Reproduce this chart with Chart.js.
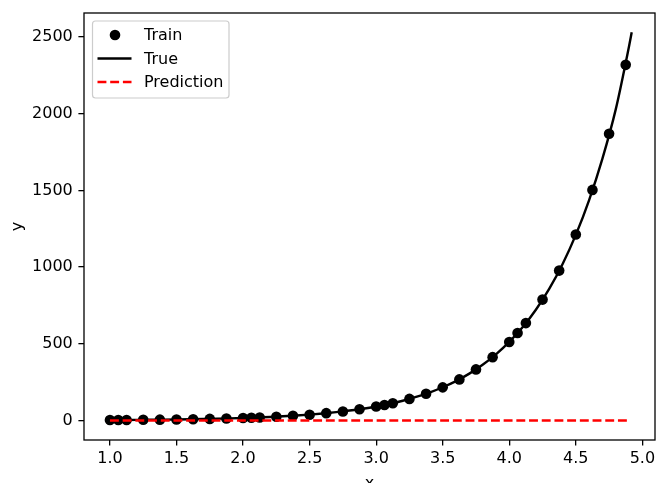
<!DOCTYPE html>
<html>
<head>
<meta charset="utf-8">
<script src="https://cdn.jsdelivr.net/npm/chart.js@4.4.1/dist/chart.umd.min.js"></script>
<style>
  html, body { margin: 0; padding: 0; background: #fff; }
  canvas { display: block; }
</style>
</head>
<body>
<canvas id="grafico" width="657" height="483"></canvas>
<script>
// dados
const trainX = [1.0, 1.0625, 1.125, 1.25, 1.375, 1.5, 1.625, 1.75, 1.875, 2.0, 2.0625, 2.125, 2.25, 2.375, 2.5, 2.625, 2.75, 2.875,
  3.0, 3.0625, 3.125, 3.25, 3.375, 3.5, 3.625, 3.75, 3.875, 4.0, 4.0625, 4.125, 4.25, 4.375, 4.5, 4.625, 4.75, 4.875];
const trainY = [2.9, 3.2, 3.6, 4.5, 5.5, 6.9, 8.5, 10.5, 13, 16, 18, 20, 25, 31, 38, 48, 59, 73,
  91, 101, 113, 141, 174, 216, 268, 333, 413, 512, 570, 635, 788, 977, 1212, 1503, 1869, 2318];

const trueX = [1.0, 1.1, 1.2, 1.3, 1.4, 1.5, 1.6, 1.7, 1.8, 1.9, 2.0, 2.1, 2.2, 2.3, 2.4, 2.5, 2.6, 2.7, 2.8, 2.9,
  3.0, 3.1, 3.2, 3.3, 3.4, 3.5, 3.6, 3.7, 3.8, 3.9, 4.0, 4.1, 4.2, 4.3, 4.4, 4.5, 4.6, 4.7, 4.8, 4.9, 4.92];
const trueY = [2.9, 3.5, 4.1, 4.9, 5.8, 6.9, 8.2, 9.8, 11.6, 13.8, 16.4, 19.5, 23.1, 27.5, 32.6, 38.7, 46, 54.7, 64.9, 77,
  91.6, 108.8, 129, 153.5, 182, 216.7, 257, 305.6, 363, 431, 512, 608, 722, 858, 1019, 1210, 1437, 1707, 2028, 2440, 2530];

const predX = [1.0, 4.9];
const predY = [0, 0];

const xTicks = [1.0, 1.5, 2.0, 2.5, 3.0, 3.5, 4.0, 4.5, 5.0];
const yTicks = [0, 500, 1000, 1500, 2000, 2500];

const labels = ["Train", "True", "Prediction"];

const fonte = "'DejaVu Sans', sans-serif";
const toPts = (xs, ys) => xs.map((x, i) => ({ x: x, y: ys[i] }));

// moldura (spines) + legenda estilo matplotlib
const molduraLegenda = {
  id: "molduraLegenda",
  afterDraw(chart) {
    const { ctx, chartArea: a } = chart;
    ctx.save();
    ctx.strokeStyle = "#000";
    ctx.lineWidth = 1.3;
    ctx.strokeRect(a.left, a.top, a.right - a.left, a.bottom - a.top);

    // caixa da legenda
    const bx = 92.5, by = 21, bw = 136.5, bh = 77, r = 3;
    ctx.beginPath();
    ctx.roundRect(bx, by, bw, bh, r);
    ctx.fillStyle = "rgba(255,255,255,0.8)";
    ctx.fill();
    ctx.strokeStyle = "#cccccc";
    ctx.lineWidth = 1.2;
    ctx.stroke();

    const rows = [35, 58.5, 82];
    ctx.font = "16px " + fonte;
    ctx.textBaseline = "middle";
    ctx.textAlign = "left";
    // Train: marcador
    ctx.fillStyle = "#000";
    ctx.beginPath();
    ctx.arc(115, rows[0], 5.3, 0, Math.PI * 2);
    ctx.fill();
    // True: linha
    ctx.strokeStyle = "#000";
    ctx.lineWidth = 2.4;
    ctx.beginPath();
    ctx.moveTo(97.5, rows[1]);
    ctx.lineTo(131.5, rows[1]);
    ctx.stroke();
    // Prediction: tracejado
    ctx.strokeStyle = "#ff0000";
    ctx.setLineDash([8.9, 3.8]);
    ctx.beginPath();
    ctx.moveTo(97.5, rows[2]);
    ctx.lineTo(131.5, rows[2]);
    ctx.stroke();
    ctx.setLineDash([]);

    ctx.fillStyle = "#000";
    labels.forEach((t, i) => ctx.fillText(t, 144, rows[i] + 1));
    ctx.restore();
  }
};

new Chart(document.getElementById("grafico").getContext("2d"), {
  type: "scatter",
  data: {
    datasets: [
      {
        label: labels[0],
        data: toPts(trainX, trainY),
        showLine: false,
        pointRadius: 5.3,
        pointHoverRadius: 5.3,
        pointBackgroundColor: "#000",
        pointBorderWidth: 0,
        order: 2
      },
      {
        label: labels[1],
        data: toPts(trueX, trueY),
        showLine: true,
        pointRadius: 0,
        borderColor: "#000",
        borderWidth: 2.4,
        cubicInterpolationMode: "monotone",
        order: 1
      },
      {
        label: labels[2],
        data: toPts(predX, predY),
        showLine: true,
        pointRadius: 0,
        borderColor: "#ff0000",
        borderWidth: 2.4,
        borderDash: [8.9, 3.8],
        order: 0
      }
    ]
  },
  options: {
    responsive: false,
    animation: false,
    devicePixelRatio: 1,
    layout: { autoPadding: false, padding: { top: 13, right: 2, left: 0, bottom: 0 } },
    plugins: {
      legend: { display: false },
      tooltip: { enabled: false }
    },
    scales: {
      x: {
        type: "linear",
        min: 0.805,
        max: 5.095,
        afterBuildTicks: ax => { ax.ticks = xTicks.map(v => ({ value: v })); },
        afterFit: ax => { ax.height = 43; ax.paddingLeft = 0; ax.paddingRight = 0; },
        border: { display: false },
        grid: { drawOnChartArea: false, drawTicks: true, tickLength: 5.6, color: "#000", lineWidth: 1.3 },
        ticks: {
          color: "#000",
          padding: 4,
          font: { family: fonte, size: 16 },
          maxRotation: 0,
          callback: v => Number(v).toFixed(1)
        },
        title: {
          display: true,
          text: "x",
          color: "#000",
          font: { family: fonte, size: 16 },
          padding: { top: 0, bottom: -10 }
        }
      },
      y: {
        type: "linear",
        min: -127,
        max: 2656,
        afterBuildTicks: ax => { ax.ticks = yTicks.map(v => ({ value: v })); },
        afterFit: ax => { ax.width = 84; ax.paddingTop = 0; ax.paddingBottom = 0; },
        border: { display: false },
        grid: { drawOnChartArea: false, drawTicks: true, tickLength: 5.6, color: "#000", lineWidth: 1.3 },
        ticks: {
          color: "#000",
          padding: 5.6,
          font: { family: fonte, size: 16 },
          callback: v => String(v)
        },
        title: {
          display: true,
          text: "y",
          color: "#000",
          font: { family: fonte, size: 16 },
          padding: { top: 8, bottom: 0 }
        }
      }
    }
  },
  plugins: [molduraLegenda]
});
</script>
</body>
</html>
